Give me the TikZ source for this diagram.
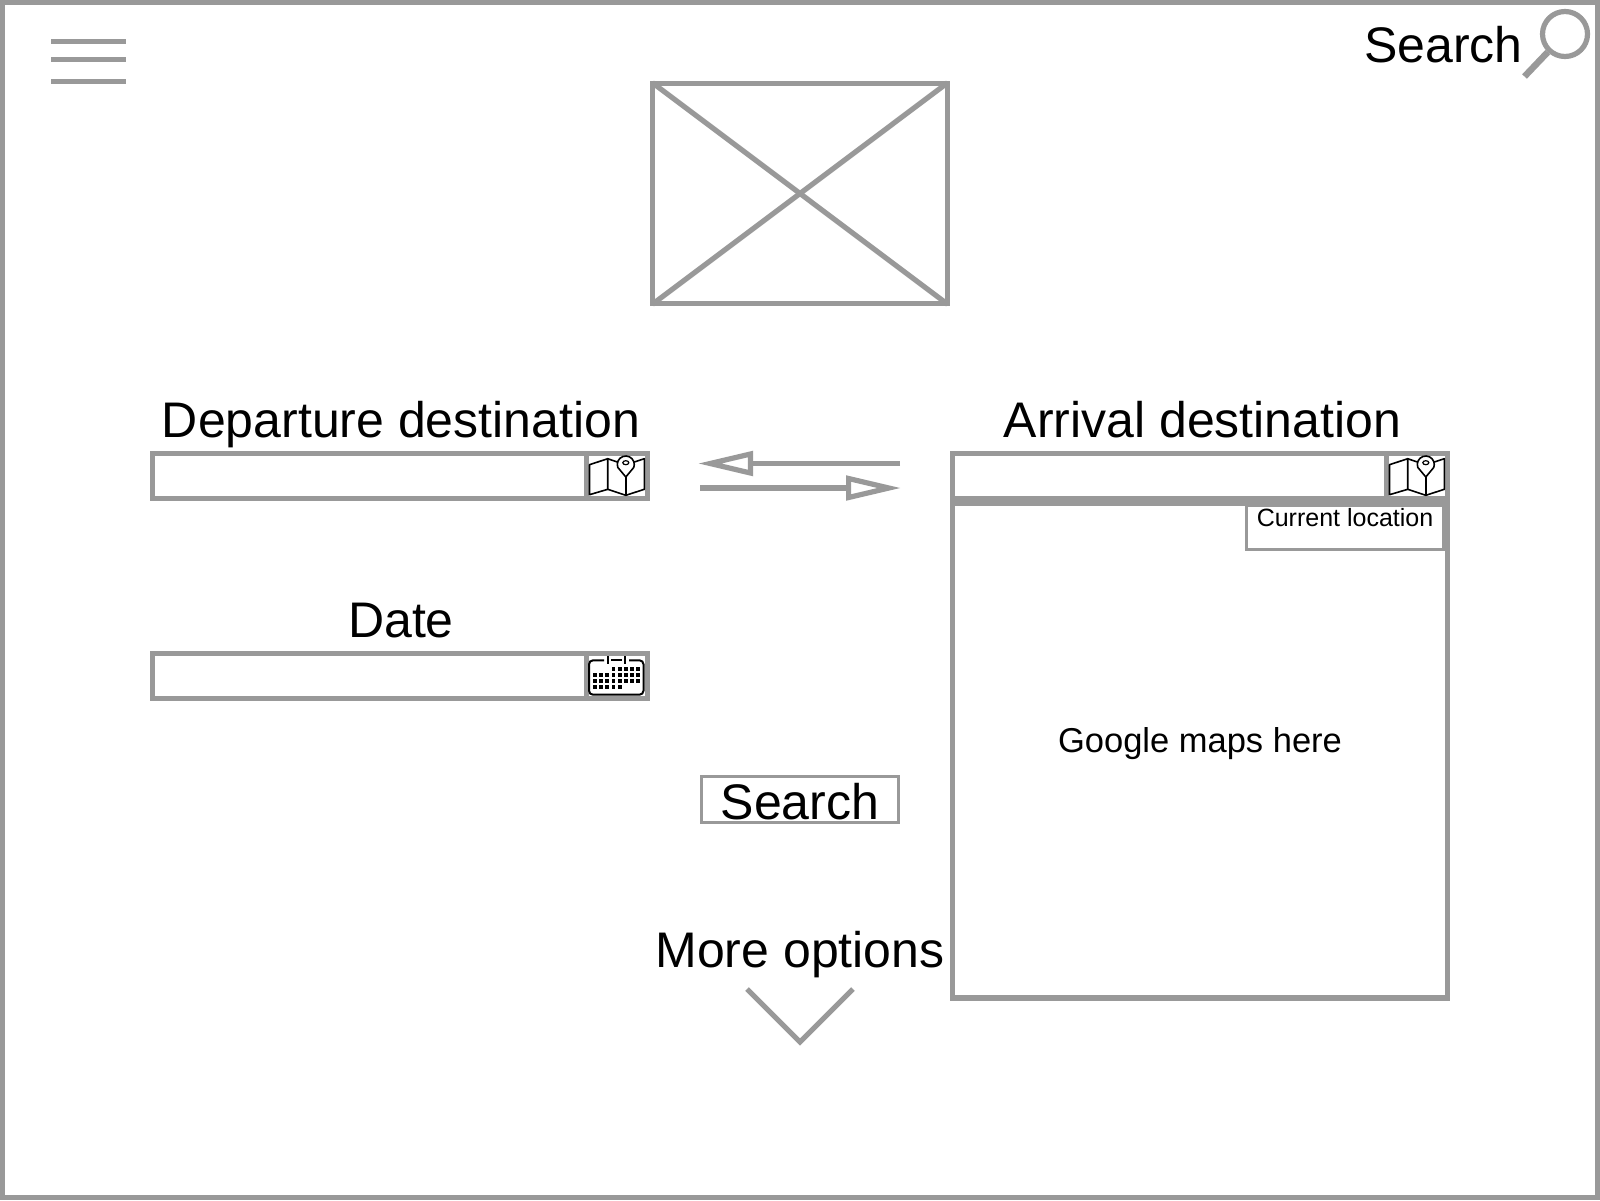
\documentclass[tikz,border=0pt]{standalone}
\usepackage{fontspec}
\setmainfont{Liberation Sans}
\usetikzlibrary{arrows.meta}
\definecolor{wire}{HTML}{999999}
\tikzset{
    wirebox/.style={rectangle,draw=wire,line width=2.6pt,inner sep=0pt,fill=white},
    thinbox/.style={rectangle,draw=wire,line width=1.5pt,inner sep=0pt,fill=white},
    wireline/.style={draw=wire,line width=2.6pt},
    bigtext/.style={anchor=base,inner sep=0pt,font=\fontsize{25}{30}\selectfont},
    midtext/.style={anchor=base,inner sep=0pt,font=\fontsize{17.25}{20}\selectfont},
    smalltext/.style={anchor=base,inner sep=0pt,font=\fontsize{12.5}{15}\selectfont},
    swaparrow/.style={wireline,-{Triangle[open,length=27.5pt,width=12pt]}},
    mapicon/.pic={
        \draw[line width=.8pt,line join=round] (.5,8.7) -- (18.7,2.7) -- (18.7,33.3) -- (.5,38.7) -- cycle;
        \draw[line width=.8pt,line join=round] (18.7,2.7) -- (28.3,6) (45.3,6) -- (55.3,2.7) -- (55.3,33.3) -- (36.8,39.3) -- (18.7,33.3);
        \draw[line width=.8pt,line join=round] (36.8,21) -- (36.8,39.3);
        \draw[line width=.8pt,line join=round] (36.8,21) -- (28.8,11.4) arc[start angle=160,end angle=380,radius=8.5] -- cycle;
        \draw[line width=.6pt] (36.8,6.7) ellipse[x radius=3,y radius=2];
    },
    calicon/.pic={
        \draw[line width=1pt,rounded corners=2pt] (15,4.3) -- (0,4.3) -- (0,38.7) -- (54.5,38.7) -- (54.5,4.3) -- (40,4.3);
        \draw[line width=1pt] (22,4.3) -- (33,4.3);
        \draw[line width=1pt] (18.7,0) -- (18.7,8) (36,0) -- (36,8);
        \foreach \col in {3,...,7}
            \fill ({6+\col*6.15-1.9},11.4) rectangle +(3.8,3.8);
        \foreach \col in {0,...,7}
            \fill ({6+\col*6.15-1.9},17.4) rectangle +(3.8,3.8);
        \foreach \col in {0,...,7}
            \fill ({6+\col*6.15-1.9},23.1) rectangle +(3.8,3.8);
        \foreach \col in {0,...,4}
            \fill ({6+\col*6.15-1.9},29.1) rectangle +(3.8,3.8);
    }
}
\begin{document}
\begin{tikzpicture}[x=.5pt,y=-.5pt]
\useasboundingbox (0,0) rectangle (1600,1200);
% page frame
\node[wirebox,minimum width=797.5pt,minimum height=597.5pt] (frame) at (800,600) {};
% menu
\coordinate (menua) at (51,41.5);
\coordinate (menub) at (126,41.5);
\coordinate (menuc) at (51,59.5);
\coordinate (menud) at (126,59.5);
\coordinate (menue) at (51,81.5);
\coordinate (menuf) at (126,81.5);
\draw[wireline] (menua) -- (menub);
\draw[wireline] (menuc) -- (menud);
\draw[wireline] (menue) -- (menuf);
% top search
\node[bigtext,anchor=base east] (toptext) at (1523,62) {Search};
\node[circle,draw=wire,line width=2.6pt,inner sep=0pt,minimum size=22.5pt] (lens) at (1565,34) {};
\coordinate (handle) at (1524.5,76.5);
\draw[wireline,line width=3.25pt] (lens) -- (handle);
% logo
\node[wirebox,minimum width=147.5pt,minimum height=110pt] (logo) at (800,193.5) {};
\draw[wireline,shorten <=1.5pt,shorten >=1.5pt] (logo.north west) -- (logo.south east);
\draw[wireline,shorten <=1.5pt,shorten >=1.5pt] (logo.north east) -- (logo.south west);
% departure
\node[bigtext] (deptext) at (401,437) {Departure destination};
\node[wirebox,minimum width=247.5pt,minimum height=22.5pt] (depfield) at (400,476) {};
\node[wirebox,minimum width=30.5pt,minimum height=22.5pt] (depicon) at (617,476) {};
\pic at (589,456) {mapicon};
% swap arrows
\coordinate (swapa) at (900,463.5);
\coordinate (swapb) at (698,463.5);
\coordinate (swapc) at (700,488);
\coordinate (swapd) at (901,488);
\draw[swaparrow] (swapa) -- (swapb);
\draw[swaparrow] (swapc) -- (swapd);
% arrival
\node[bigtext] (arrtext) at (1202.5,437) {Arrival destination};
\node[wirebox,minimum width=247.5pt,minimum height=22.5pt] (arrfield) at (1200,476) {};
\node[wirebox,minimum width=30.5pt,minimum height=22.5pt] (arricon) at (1417,476) {};
\pic at (1389,456) {mapicon};
\node[wirebox,minimum width=247.5pt,minimum height=247.25pt] (mapbox) at (1200,750.75) {};
\node[thinbox,minimum width=98.5pt,minimum height=22pt] (curbox) at (1345,527.5) {};
\node[smalltext] (curtext) at (1345,526) {Current location};
\node[midtext] (maptext) at (1200,752) {Google maps here};
% date
\node[bigtext] (datetext) at (401,637) {Date};
\node[wirebox,minimum width=247.5pt,minimum height=22.5pt] (datefield) at (400,676) {};
\node[wirebox,minimum width=30.5pt,minimum height=22.5pt] (dateicon) at (617,676) {};
\pic at (589,656) {calicon};
% search button
\node[thinbox,minimum width=98.5pt,minimum height=23pt] (searchbtn) at (800,799.5) {};
\node[bigtext] (searchtext) at (800,819) {Search};
% more options
\node[bigtext] (moretext) at (800,967) {More options};
\coordinate (chevl) at (747,989);
\coordinate (chevm) at (800,1042);
\coordinate (chevr) at (853,989);
\draw[wireline] (chevl) -- (chevm) -- (chevr);
\end{tikzpicture}
\end{document}
